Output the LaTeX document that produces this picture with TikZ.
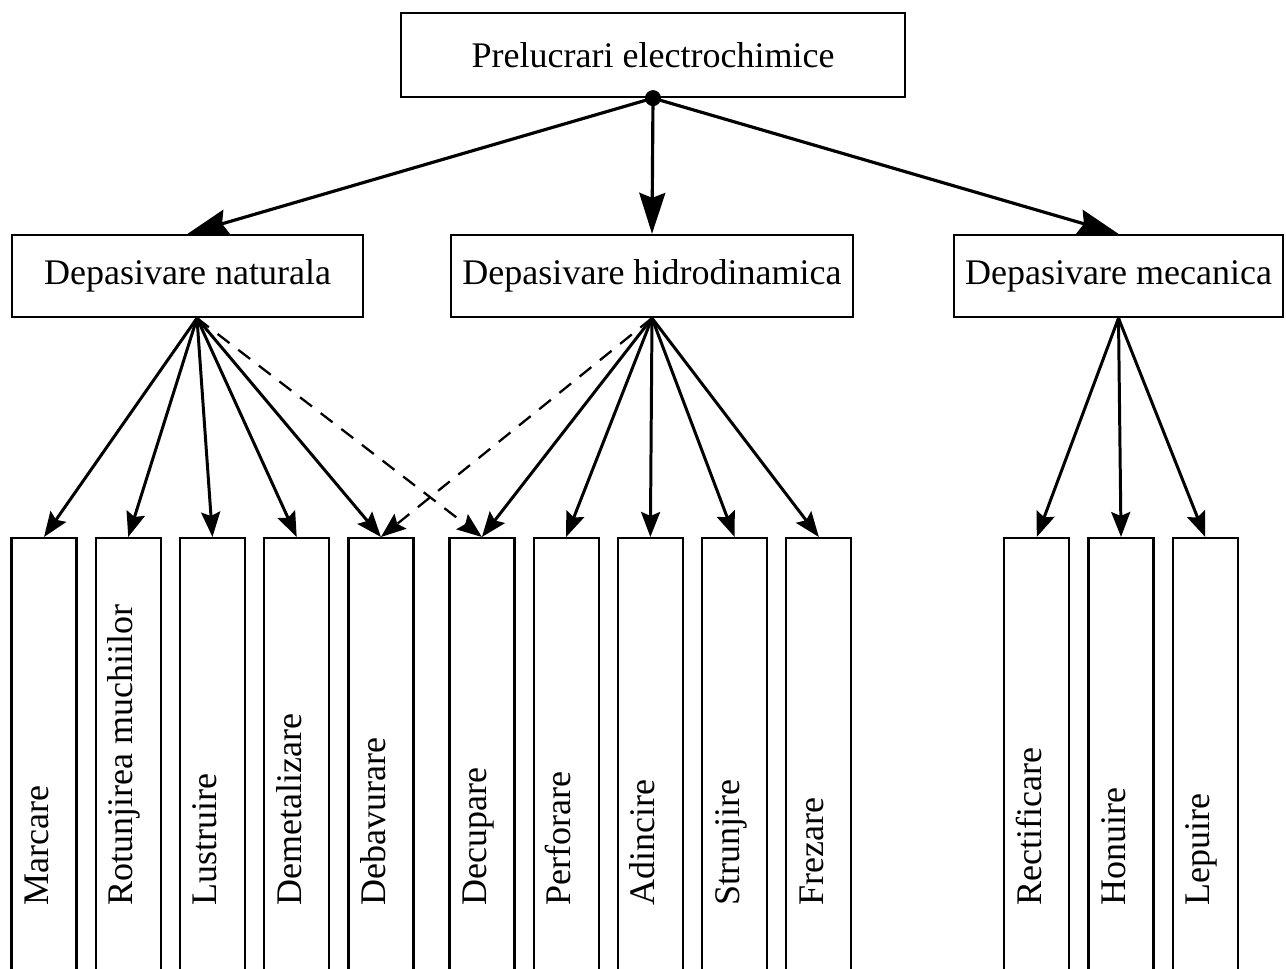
\documentclass[tikz,border=0pt]{standalone}
\usepackage{fontspec}
\setmainfont{Liberation Serif}
\usetikzlibrary{arrows.meta,positioning}

\begin{document}
\begin{tikzpicture}[x=0.02cm,y=-0.02cm,node distance=1.685cm,on grid,
  font=\fontsize{20.5}{24}\selectfont,
  box/.style={draw,line width=1.3pt,inner sep=0pt,minimum height=1.64cm},
  leaf/.style={draw,line width=1.3pt,inner sep=0pt,minimum width=1.3cm,minimum height=9.06cm},
  vtext/.style={rotate=90,anchor=west,inner sep=0pt,text height=0.7em,text depth=0.2em},
  dot/.style={circle,fill,inner sep=0pt,minimum size=0.32cm}]
  \useasboundingbox (0,0) rectangle (1286,969);
  \node[box,minimum width=10.08cm,minimum height=1.68cm] (P) at (653,55)     {Prelucrari electrochimice};
  \node[box,minimum width=7.02cm]                        (N) at (187.5,276)  {Depasivare naturala};
  \node[box,minimum width=8.04cm]                        (H) at (652,276)    {Depasivare hidrodinamica};
  \node[box,minimum width=6.58cm]                        (M) at (1118.5,276) {Depasivare mecanica};
  \node[dot]                                             (D) at (P.south)    {};
  \coordinate (Ns) at ([xshift=0.19cm]N.south);
  \node[leaf,anchor=north] (L1)  at (44,537)           {};
  \node[leaf]              (L2)  [right=of L1]         {};
  \node[leaf]              (L3)  [right=of L2]         {};
  \node[leaf]              (L4)  [right=of L3]         {};
  \node[leaf]              (L5)  [right=of L4]         {};
  \node[leaf]              (L6)  [right=2.02cm of L5]  {};
  \node[leaf]              (L7)  [right=of L6]         {};
  \node[leaf]              (L8)  [right=of L7]         {};
  \node[leaf]              (L9)  [right=of L8]         {};
  \node[leaf]              (L10) [right=of L9]         {};
  \node[leaf]              (L11) [right=4.36cm of L10] {};
  \node[leaf]              (L12) [right=of L11]        {};
  \node[leaf]              (L13) [right=of L12]        {};
  \node[vtext] (T1)  at ([yshift=-7.38cm]L1.north)  {Marcare};
  \node[vtext] (T2)  at ([yshift=-7.38cm]L2.north)  {Rotunjirea muchiilor};
  \node[vtext] (T3)  at ([yshift=-7.38cm]L3.north)  {Lustruire};
  \node[vtext] (T4)  at ([yshift=-7.38cm]L4.north)  {Demetalizare};
  \node[vtext] (T5)  at ([yshift=-7.38cm]L5.north)  {Debavurare};
  \node[vtext] (T6)  at ([yshift=-7.38cm]L6.north)  {Decupare};
  \node[vtext] (T7)  at ([yshift=-7.38cm]L7.north)  {Perforare};
  \node[vtext] (T8)  at ([yshift=-7.38cm]L8.north)  {Adincire};
  \node[vtext] (T9)  at ([yshift=-7.38cm]L9.north)  {Strunjire};
  \node[vtext] (T10) at ([yshift=-7.38cm]L10.north) {Frezare};
  \node[vtext] (T11) at ([yshift=-7.38cm]L11.north) {Rectificare};
  \node[vtext] (T12) at ([yshift=-7.38cm]L12.north) {Honuire};
  \node[vtext] (T13) at ([yshift=-7.38cm]L13.north) {Lepuire};
\tikzset{link/.style={-{Stealth[length=0.82cm,width=0.52cm,inset=0.1cm]},line width=1.8pt}}
\path (D.center) edge [link] (N.north)
      (D.center) edge [link] (H.north)
      (D.center) edge [link] (M.north);
\tikzset{link/.style={-{Stealth[length=0.5cm,width=0.38cm,inset=0.08cm]},line width=1.7pt}}
\path (Ns)      edge [link] (L1.north)
      (Ns)      edge [link] (L2.north)
      (Ns)      edge [link] (L3.north)
      (Ns)      edge [link] (L4.north)
      (Ns)      edge [link] (L5.north)
      (H.south) edge [link] (L6.north)
      (H.south) edge [link] (L7.north)
      (H.south) edge [link] (L8.north)
      (H.south) edge [link] (L9.north)
      (H.south) edge [link] (L10.north)
      (M.south) edge [link] (L11.north)
      (M.south) edge [link] (L12.north)
      (M.south) edge [link] (L13.north);
\tikzset{link/.style={-{Stealth[length=0.5cm,width=0.38cm,inset=0.08cm]},line width=1.3pt,dash pattern=on 0.3cm off 0.22cm}}
\path (Ns)      edge [link] (L6.north)
      (H.south) edge [link] (L5.north);
\end{tikzpicture}
\end{document}
